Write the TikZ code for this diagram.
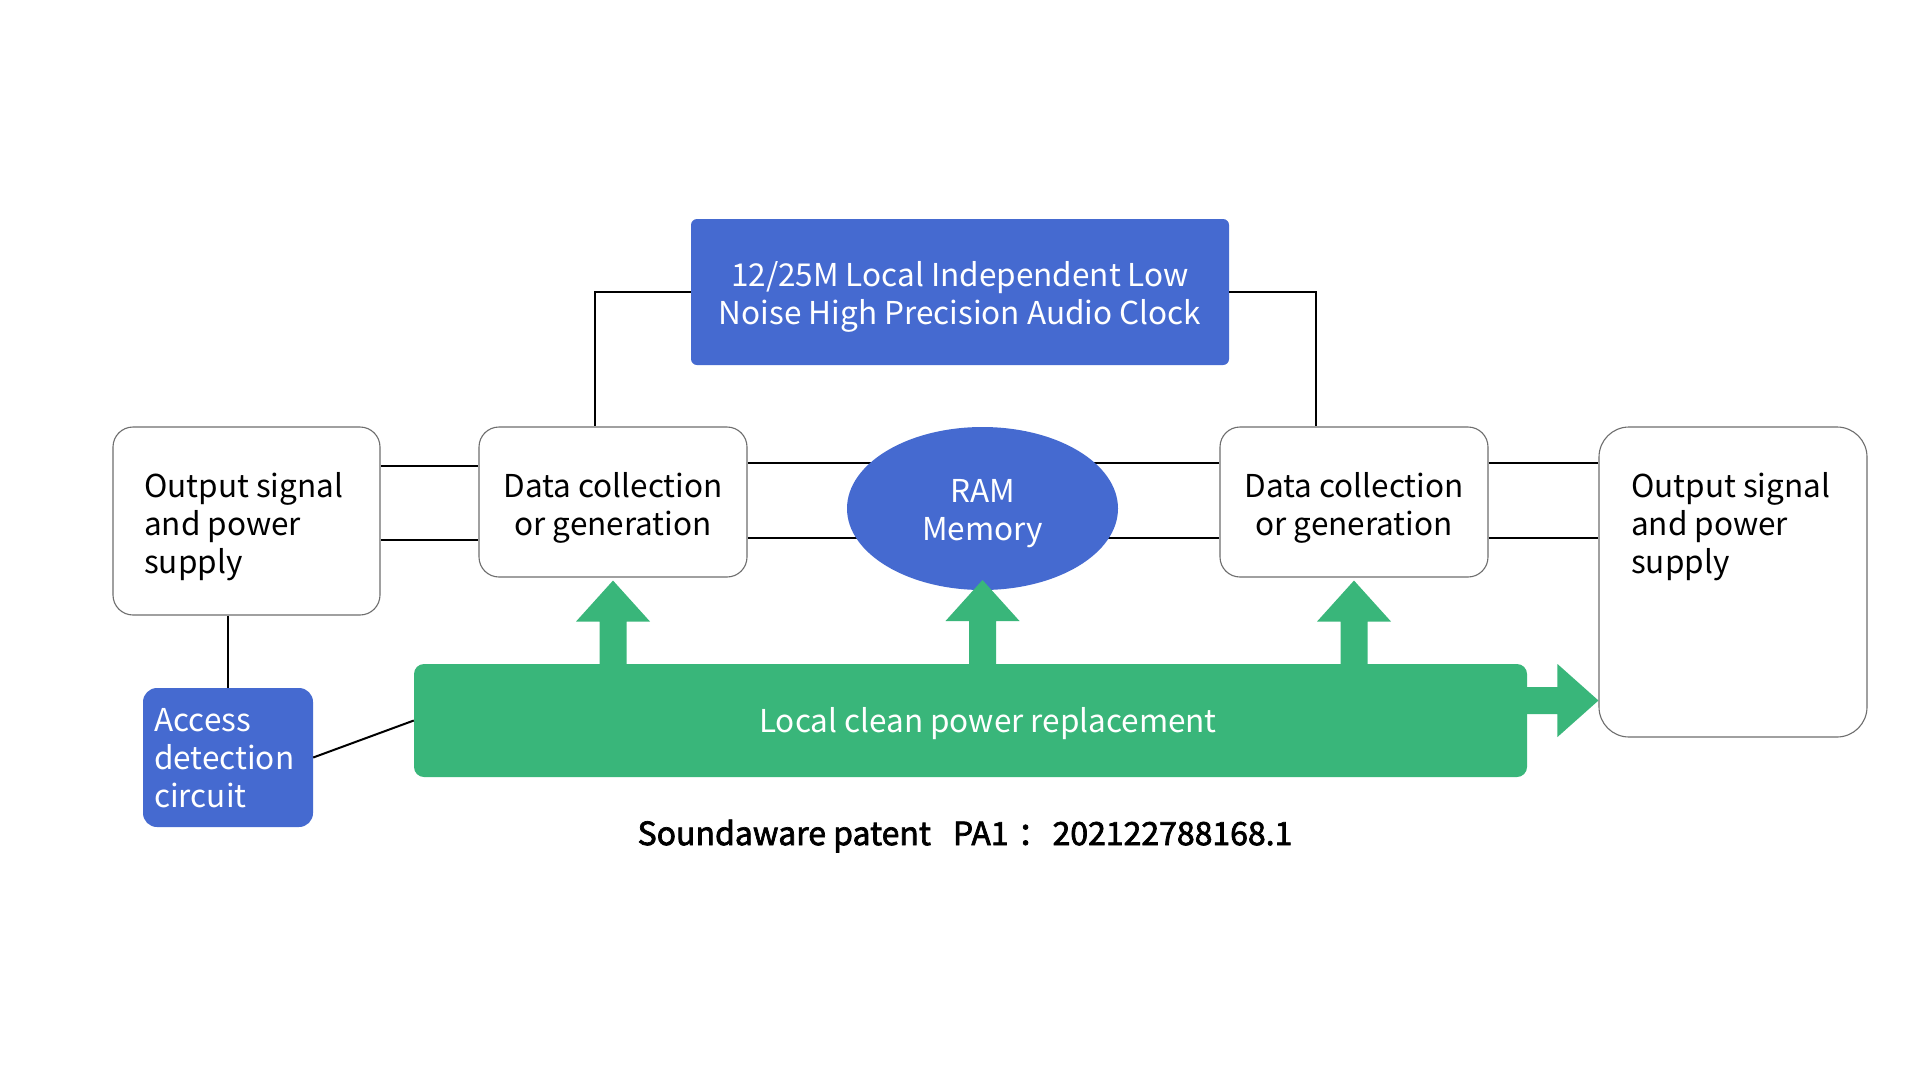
\documentclass[tikz,border=0pt]{standalone}
\usepackage{fontspec}
\setmainfont{Noto Sans CJK SC}
\newfontfamily\patfont[FakeBold=2.2]{Noto Sans CJK SC}
\usetikzlibrary{shapes.geometric,calc}
\pgfdeclarelayer{background}
\pgfsetlayers{background,main}
\definecolor{myblue}{RGB}{69,106,208}
\definecolor{mygreen}{RGB}{57,182,122}
\definecolor{myedge}{RGB}{110,110,110}
\tikzset{
  txt/.style={font=\fontsize{31.5}{38}\selectfont, inner sep=0pt},
  wbox/.style={draw=myedge, line width=1.1pt, fill=white, rounded corners=20pt, inner sep=0pt},
  bbox/.style={fill=myblue, inner sep=0pt},
  conn/.style={line width=2pt, black},
  thinconn/.style={line width=1.3pt, black},
}
\begin{document}
\begin{tikzpicture}[x=1pt,y=-1pt]
\begin{pgfonlayer}{background}
\fill[white] (0,0) rectangle (1920,1080);
\end{pgfonlayer}
\useasboundingbox (0,0) rectangle (1920,1080);
% row coordinates
\coordinate (ra) at (0,466);
\coordinate (rb) at (0,540);
\coordinate (rc) at (0,463);
\coordinate (rd) at (0,538);
\coordinate (c1) at (595,0);
\coordinate (c2) at (1316,0);
\coordinate (ry) at (0,700.5);
% boxes
\node[bbox, rounded corners=6pt, minimum width=538pt, minimum height=146pt] (clk) at (960,292) {};
\node[wbox, minimum width=267pt, minimum height=188pt] (lo) at (246.5,521) {};
\node[wbox, minimum width=268pt, minimum height=150pt] (d1) at (613,502) {};
\node[ellipse, fill=myblue, inner sep=0pt, minimum width=271pt, minimum height=163pt] (ram) at (982.5,508.5) {};
\node[wbox, minimum width=268pt, minimum height=150pt] (d2) at (1354,502) {};
\node[wbox, rounded corners=30pt, minimum width=268pt, minimum height=310pt] (ro) at (1733,582) {};
\node[bbox, rounded corners=14pt, minimum width=170pt, minimum height=139pt] (acc) at (228,757.5) {};
\node[fill=mygreen, rounded corners=10pt, inner sep=0pt, minimum width=1113pt, minimum height=113pt] (bar) at (970.5,720.5) {};
% texts
\node[txt, text=white, align=center] (clkt) at (960,296.5) {12/25M Local Independent Low\\Noise High Precision Audio Clock};
\node[txt, align=left, anchor=west] (lot) at (144,526.5) {Output signal\\and power\\supply};
\node[txt, align=center] (d1t) at (613,507.5) {Data collection\\or generation};
\node[txt, text=white, align=center] (ramt) at (982.5,514) {RAM\\Memory};
\node[txt, align=center] (d2t) at (1354,507.5) {Data collection\\or generation};
\node[txt, align=left, anchor=west] (rot) at (1631,526.5) {Output signal\\and power\\supply};
\node[txt, text=white, align=left, anchor=west] (acct) at (154,758.5) {Access\\detection\\circuit};
\node[txt, text=white] (bart) at (988,723.5) {Local clean power replacement};
\node[txt, font=\fontsize{32}{38}\selectfont\patfont] (pat) at (965,836) {Soundaware patent\hspace{22pt}PA1\hspace{9pt}：\hspace{3pt}202122788168.1};
% connectors
\begin{pgfonlayer}{background}
\draw[conn] (lo.east |- ra) -- (d1.west |- ra);
\draw[conn] (lo.east |- rb) -- (d1.west |- rb);
\draw[conn] (d1.east |- rc) -- (ram.center |- rc);
\draw[conn] (d1.east |- rd) -- (ram.center |- rd);
\draw[conn] (ram.center |- rc) -- (d2.west |- rc);
\draw[conn] (ram.center |- rd) -- (d2.west |- rd);
\end{pgfonlayer}
\draw[conn] (d2.east |- rc) -- (ro.west |- rc);
\draw[conn] (d2.east |- rd) -- (ro.west |- rd);
\draw[thinconn] (clk.west) -| (d1.north -| c1);
\draw[thinconn] (clk.east) -| (d2.north -| c2);
\draw[thinconn] (acc.north |- lo.south) -- (acc.north);
\draw[conn] (acc.east) -- (bar.west);
% up arrows
\coordinate (u1) at ($(d1.south)+(0,3)$);
\coordinate (u2) at ($(ram.center)+(0,71.5)$);
\coordinate (u3) at ($(d2.south)+(0,3)$);
\foreach \n in {u1,u2,u3}{
  \fill[mygreen] (\n) -- ++(37,41) -- ++(-23.5,0) -- ++(0,44) -- ++(-27,0) -- ++(0,-44) -- ++(-23.5,0) -- cycle;
}
% right arrow
\coordinate (rt) at (ro.west |- ry);
\fill[mygreen] (rt) -- ++(-41,-36.5) -- ++(0,23) -- ++(-32,0) -- ++(0,27) -- ++(32,0) -- ++(0,23) -- cycle;
\end{tikzpicture}
\end{document}
